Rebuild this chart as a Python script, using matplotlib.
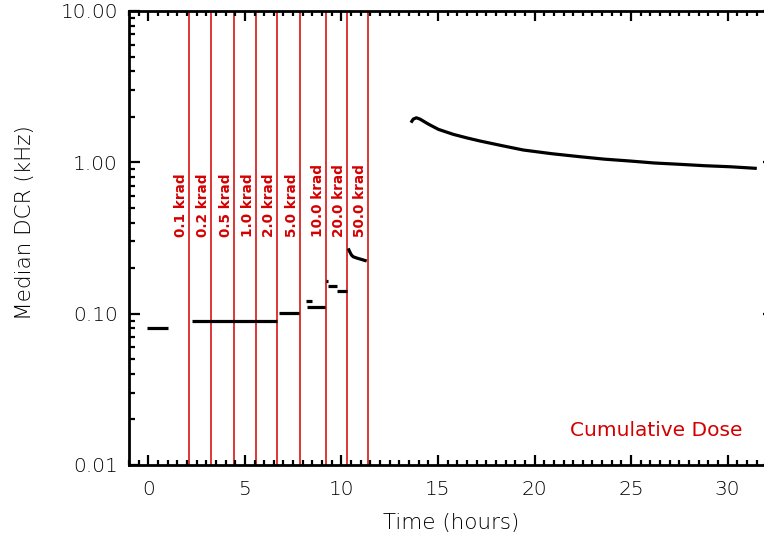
import matplotlib
matplotlib.use("Agg")
import matplotlib.pyplot as plt
from matplotlib.ticker import FixedLocator, FixedFormatter, MultipleLocator, LogLocator, NullFormatter

# ---- data ----
pre_x = [-0.06, 1.04]
pre_y = [0.080, 0.080]

dose_x = [2.11, 3.27, 4.43, 5.57, 6.67, 7.85, 9.18, 10.28, 11.37]
dose_labels = ["0.1 krad", "0.2 krad", "0.5 krad", "1.0 krad", "2.0 krad",
               "5.0 krad", "10.0 krad", "20.0 krad", "50.0 krad"]

seg1_x = [2.24, 6.64]
seg1_y = [0.0898, 0.0898]
seg2_x = [6.78, 7.81]
seg2_y = [0.1005, 0.1005]
seg3a_x = [8.15, 8.46]
seg3a_y = [0.121, 0.121]
seg3b_x = [8.20, 9.15]
seg3b_y = [0.111, 0.111]
seg4a_x = [9.20, 9.32]
seg4a_y = [0.164, 0.164]
seg4b_x = [9.32, 9.78]
seg4b_y = [0.152, 0.152]
seg4c_x = [9.78, 10.27]
seg4c_y = [0.1417, 0.1417]
seg5_x = [10.35, 10.42, 10.52, 10.61, 10.80, 11.05, 11.31]
seg5_y = [0.270, 0.258, 0.244, 0.2377, 0.233, 0.228, 0.2228]

recov_x = [13.60, 13.72, 13.88, 14.07, 14.50, 15.02, 15.79, 16.5, 17.18, 18.3,
           19.42, 20.9, 22.36, 23.6, 24.95, 26.2, 27.54, 28.8, 30.13, 31.51]
recov_y = [1.83, 1.93, 1.97, 1.93, 1.79, 1.652, 1.531, 1.45, 1.383, 1.29,
           1.206, 1.14, 1.089, 1.05, 1.020, 0.99, 0.970, 0.95, 0.935, 0.912]

yticks = [0.01, 0.1, 1.0, 10.0]
ytick_labels = ["0.01", "0.10", "1.00", "10.00"]
xticks = [0, 5, 10, 15, 20, 25, 30]

RED = "#d40000"
FS = 14.5

fig = plt.figure(figsize=(7.64, 5.38), dpi=100)
ax = fig.add_axes([129/764, (538-465)/538, (774-129)/764, (465-11)/538])

for xv in dose_x:
    ax.axvline(xv, color=RED, lw=1.1, zorder=1)
for xv, lab in zip(dose_x, dose_labels):
    ax.text(xv - 0.05, 0.32, lab, rotation=90, ha="right", va="bottom",
            color=RED, fontsize=9.8, fontweight="bold", zorder=2)

lw = 2.3
for sx, sy in [(pre_x, pre_y), (seg1_x, seg1_y), (seg2_x, seg2_y),
               (seg3a_x, seg3a_y), (seg3b_x, seg3b_y),
               (seg4a_x, seg4a_y), (seg4b_x, seg4b_y), (seg4c_x, seg4c_y),
               (seg5_x, seg5_y), (recov_x, recov_y)]:
    ax.plot(sx, sy, color="black", lw=lw, solid_capstyle="butt",
            solid_joinstyle="round", zorder=3)

ax.set_yscale("log")
ax.set_xlim(-1.0, 32.4)
ax.set_ylim(0.01, 10.0)

ax.yaxis.set_major_locator(FixedLocator(yticks))
ax.yaxis.set_major_formatter(FixedFormatter(ytick_labels))
ax.yaxis.set_minor_locator(LogLocator(base=10, subs=range(2, 10)))
ax.yaxis.set_minor_formatter(NullFormatter())
ax.xaxis.set_major_locator(FixedLocator(xticks))
ax.xaxis.set_minor_locator(MultipleLocator(0.5))

ax.tick_params(which="both", direction="in", top=True, right=True, width=1.6,
               labelsize=FS, color="black")
ax.tick_params(axis="y", which="major", length=8, pad=8)
ax.tick_params(axis="y", which="minor", length=4)
ax.tick_params(axis="x", which="major", length=7, pad=11)
ax.tick_params(axis="x", which="minor", length=3.5)
for lab in ax.get_xticklabels() + ax.get_yticklabels():
    lab.set_fontweight("light")
for sp in ax.spines.values():
    sp.set_linewidth(2.0)

ax.set_xlabel("Time (hours)", fontsize=15.5, fontweight="light", labelpad=10)
ax.set_ylabel("Median DCR (kHz)", fontsize=15.5, fontweight="light")
ax.yaxis.set_label_coords(-0.145, 0.535)

ax.text(0.818, 0.075, "Cumulative Dose", transform=ax.transAxes, color=RED,
        fontsize=14.5, ha="center", va="center")

fig.savefig("out.png", dpi=100)
